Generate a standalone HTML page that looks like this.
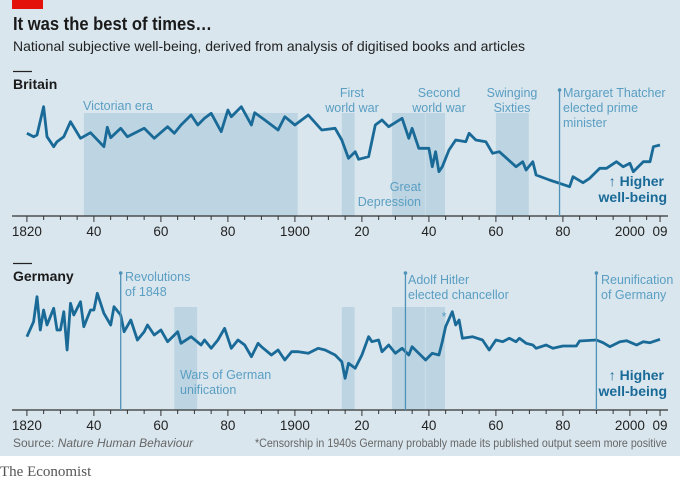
<!DOCTYPE html>
<html><head><meta charset="utf-8"><style>
body{margin:0;width:680px;height:481px;overflow:hidden;background:#fff}
svg{display:block;font-family:"Liberation Sans",sans-serif}
</style></head><body>
<svg id="c" width="680" height="481">
<rect x="0" y="0" width="680" height="456" fill="#d9e6ee"/>
<rect x="12" y="0" width="31" height="9" fill="#e3120b"/>
<text x="13" y="30" font-size="18.5" font-weight="bold" fill="#1a1a1a" textLength="199" lengthAdjust="spacingAndGlyphs">It was the best of times…</text>
<text x="13" y="51" font-size="14" fill="#222" textLength="512" lengthAdjust="spacingAndGlyphs">National subjective well-being, derived from analysis of digitised books and articles</text>
<line x1="13" y1="71.5" x2="32" y2="71.5" stroke="#222" stroke-width="1.3"/>
<text x="13" y="89" font-size="14" font-weight="bold" fill="#1a1a1a">Britain</text>
<line x1="13" y1="263.5" x2="32" y2="263.5" stroke="#222" stroke-width="1.3"/>
<text x="13" y="281" font-size="14" font-weight="bold" fill="#1a1a1a">Germany</text>
<g id="gb"></g><g id="de"></g>
<text x="13" y="447" font-size="12" fill="#666">Source: <tspan font-style="italic">Nature Human Behaviour</tspan></text>
<text x="667" y="447" font-size="12" fill="#666" text-anchor="end" textLength="412" lengthAdjust="spacingAndGlyphs">*Censorship in 1940s Germany probably made its published output seem more positive</text>
<text x="0" y="476" font-size="15" fill="#555" font-family="Liberation Serif,serif">The Economist</text>
</svg>
<script>
const gbYears=[1820,1822,1823,1825,1826,1828,1829,1831,1833,1836,1839,1843,1844,1845,1848,1850,1855,1858,1862,1864,1866,1869,1871,1873,1875,1878,1880,1881,1884,1887,1888,1891,1895,1897,1900,1904,1908,1912,1914,1916,1918,1919,1922,1924,1926,1928,1932,1934,1935,1937,1940,1941,1942,1943,1944,1946,1948,1951,1952,1954,1957,1959,1961,1966,1968,1969,1971,1972,1976,1979,1982,1983,1986,1988,1991,1993,1996,1998,2000,2001,2004,2006,2007,2009];
const gbValues=[80.7,77.3,79,107.3,77.3,67.3,72.3,77.3,92.3,75.7,81.3,67.3,86.7,76.3,85.7,77.3,85.7,75.7,87.3,80.7,89,99,89,95.7,100.7,82.3,104,97.3,107.3,89,101.3,94,84,97.3,89,99,84,85.7,74,55.7,62.3,54.7,57.3,89,94,87.3,95.7,75.7,85.7,65.7,65.7,47.3,62.3,42.3,47.3,64,74,72.3,80.7,74,72.3,60.7,62.3,47.3,52.3,44,52.3,39,34,30.7,27.3,37.3,31.3,35.7,45.7,45.7,52.3,47.3,50.7,42.3,52.3,52.3,67.3,69];
const deYears=[1820,1822,1823,1824,1825,1826,1828,1829,1830,1831,1832,1833,1834,1836,1837,1839,1840,1841,1843,1845,1846,1848,1849,1851,1853,1855,1856,1858,1860,1862,1865,1866,1869,1872,1873,1875,1877,1879,1881,1883,1885,1887,1889,1890,1893,1895,1897,1899,1901,1904,1907,1909,1912,1914,1915,1916,1918,1920,1922,1923,1925,1926,1928,1930,1932,1934,1935,1939,1941,1943,1944,1945,1947,1948,1949,1950,1953,1956,1958,1960,1962,1964,1966,1967,1969,1971,1972,1975,1977,1980,1984,1985,1990,1992,1994,1997,1999,2002,2004,2006,2009];
const deValues=[73.3,88.3,113.3,80,100,85,101.7,80,80,98.3,60,106.7,95,108.3,83.3,100,100,116.7,96.7,85,103.3,95,78.3,90,70,78.3,85,75,80,68.3,78.3,66.7,73.3,65,70,61.7,70,81.7,61.7,70,65,53.3,66.7,63.3,55,60,50,58.3,58.3,56.7,61.7,60,55,48.3,31.7,46.7,41.7,55,73.3,68.3,70,58.3,65,56.7,61.7,55,63.3,50,56.7,55,68.3,83.3,98.3,85,90,71.7,73.3,70,60,70,68.3,71.7,68.3,71.7,66.7,65,61.7,65,61.7,64,64,69,70,67.3,63.3,68.3,69.3,65,68.3,67.3,70.7];
const tickYears=[1820,1840,1860,1880,1900,1920,1940,1960,1980,2000,2009];
const tickLabels=["1820","40","60","80","1900","20","40","60","80","2000","09"];
const gbShades=[[1837,1901],[1914,1918],[1929,1939],[1939,1945],[1960,1970]];
const deShades=[[1864,1871],[1914,1918],[1929,1939],[1939,1945]];
const NS="http://www.w3.org/2000/svg";
const x=yr=>26.9+(yr-1820)*3.35;
function mk(p,t,a){const e=document.createElementNS(NS,t);for(const k in a)e.setAttribute(k,a[k]);p.appendChild(e);return e;}
function panel(g,axisY,base,shadeTop,years,values,shades,name){
  const y=v=>base-v;
  shades.forEach(s=>{const r=mk(g,'rect',{x:x(s[0]),y:shadeTop,width:x(s[1])-x(s[0])-0.6,height:axisY-shadeTop,fill:'#bdd5e2'});
    
    });
  const ax=mk(g,'line',{x1:12,x2:668,y1:axisY,y2:axisY,stroke:'#333','stroke-width':1.2});
  
  
  for(let yr=1820;yr<=2009;yr+=5){const t=mk(g,'line',{x1:x(yr),x2:x(yr),y1:axisY,y2:axisY+(yr%20==0?6:4),stroke:'#333','stroke-width':1});
    
    }
  const t9=mk(g,'line',{x1:x(2009),x2:x(2009),y1:axisY,y2:axisY+6,stroke:'#333','stroke-width':1});
  
  
  tickYears.forEach((yr,i)=>{const t=mk(g,'text',{x:x(yr),y:axisY+20,'font-size':13.5,fill:'#222','text-anchor':'middle'});t.textContent=tickLabels[i];
    
    });
  const d=years.map((yr,i)=>(i?'L':'M')+x(yr).toFixed(1)+','+y(values[i]).toFixed(1)).join('');
  const p=mk(g,'path',{d:d,fill:'none',stroke:'#1a6a98','stroke-width':2.8,'stroke-linejoin':'round'});
  
  
  const h=mk(g,'text',{x:664,y:axisY-30,'font-size':14,'font-weight':'bold',fill:'#1a6a98','text-anchor':'end'});
  h.textContent='↑ Higher';
  
  
  const h2=mk(g,'text',{x:667,y:axisY-14,'font-size':14,'font-weight':'bold',fill:'#1a6a98','text-anchor':'end'});
  h2.textContent='well-being';
  
  
}
function vline(g,yr,top,bot,name){const l=mk(g,'line',{x1:x(yr),x2:x(yr),y1:top,y2:bot,stroke:'#4f92b8','stroke-width':1.3});
  
  
  const c=mk(g,'circle',{cx:x(yr),cy:top,r:1.8,fill:'#4f92b8'});
  
  }
function lbl(g,tx,ty,lines,anchor,name){lines.forEach((s,i)=>{const t=mk(g,'text',{x:tx,y:ty+i*15,'font-size':12.5,fill:'#5a9ec2','text-anchor':anchor||'start',textLength:0});t.removeAttribute('textLength');t.textContent=s;
  
  });}
const gb=document.getElementById('gb'),de=document.getElementById('de');
panel(gb,216,214,113,gbYears,gbValues,gbShades,'britain');
vline(gb,1979,90,216,'thatcher-marker');
lbl(gb,83,110,['Victorian era'],'start','victorian-era-label');
lbl(gb,352,97,['First','world war'],'middle','ww1-label');
lbl(gb,439,97,['Second','world war'],'middle','ww2-label');
lbl(gb,512,97,['Swinging','Sixties'],'middle','sixties-label');
lbl(gb,563,97,['Margaret Thatcher','elected prime','minister'],'start','thatcher-label');
lbl(gb,421,191,['Great','Depression'],'end','great-depression-label');
panel(de,410,410,307,deYears,deValues,deShades,'germany');
vline(de,1848,273,410,'revolutions-marker');
vline(de,1933,273,410,'hitler-marker');
vline(de,1990,273,410,'reunification-marker');
lbl(de,125,281,['Revolutions','of 1848'],'start','revolutions-label');
lbl(de,408,284,['Adolf Hitler','elected chancellor'],'start','hitler-label');
lbl(de,601,284,['Reunification','of Germany'],'start','reunification-label');
lbl(de,180,379,['Wars of German','unification'],'start','unification-label');
lbl(de,444,321,['*'],'middle','censorship-asterisk');
</script>
</body></html>
